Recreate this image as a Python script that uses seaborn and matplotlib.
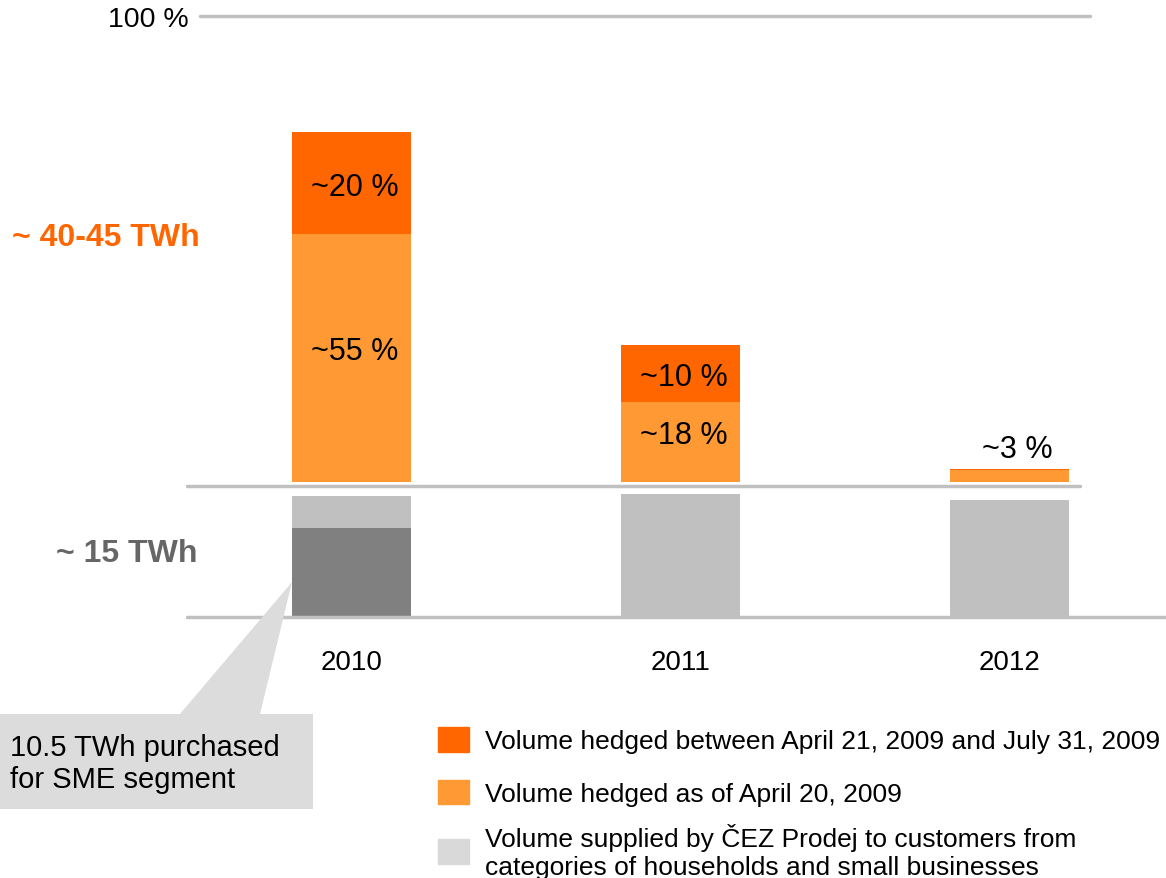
import matplotlib
matplotlib.use("Agg")
import matplotlib.pyplot as plt
from matplotlib.patches import Patch, Polygon
import seaborn as sns

# data
years = ["2010", "2011", "2012"]
hedged_early = [53.2, 17.2, 2.5]     # % of ~40-45 TWh, hedged as of April 20, 2009
hedged_late = [21.9, 12.2, 0.3]      # % hedged between April 21 and July 31, 2009
early_labels = ["~55 %", "~18 %", ""]
late_labels = ["~20 %", "~10 %", "~3 %"]
supplied = [14.3, 14.5, 13.8]        # TWh supplied to households / small businesses
sme = [10.5, 0, 0]                   # TWh purchased for SME segment

c_dark = "#ff6600"
c_light = "#ff9933"
c_grey = "#c0c0c0"
c_sme = "#808080"
c_line = "#c0c0c0"

sns.set_style("white")
plt.rcParams["font.family"] = ["Liberation Sans", "DejaVu Sans"]
plt.rcParams["text.color"] = "black"
plt.rcParams["xtick.color"] = "black"
plt.rcParams["ytick.color"] = "black"

W, H = 1166, 879
fig = plt.figure(figsize=(W / 100, H / 100), dpi=100)

def box(x0, y0, x1, y1):
    return [x0 / W, 1 - y1 / H, (x1 - x0) / W, (y1 - y0) / H]

ax_top = fig.add_axes(box(187, 17, 1166, 483))
ax_bot = fig.add_axes(box(187, 487, 1166, 618))

# upper panel: hedged share
totals = [a + b for a, b in zip(hedged_early, hedged_late)]
sns.barplot(x=years, y=totals, color=c_dark, width=0.362, linewidth=0,
            saturation=1, errorbar=None, ax=ax_top)
sns.barplot(x=years, y=hedged_early, color=c_light, width=0.362, linewidth=0,
            saturation=1, errorbar=None, ax=ax_top)
ax_top.set_xlim(-0.5, 2.476)
ax_top.set_ylim(0, 100)
ax_top.axhline(100, xmin=0.0133, xmax=0.922, color=c_line, lw=2.5, clip_on=False)
for i in range(3):
    if early_labels[i]:
        ax_top.text(i + 0.01, hedged_early[i] / 2 + 1.5, early_labels[i], ha="center",
                    va="center", fontsize=22, color="black")
    if i < 2:
        ax_top.text(i + 0.01, hedged_early[i] + hedged_late[i] / 2 - 0.8, late_labels[i],
                    ha="center", va="center", fontsize=22, color="black")
    else:
        ax_top.text(i + 0.025, totals[i] + 4.2, late_labels[i], ha="center",
                    va="center", fontsize=22, color="black")
ax_top.set_yticks([100], ["100 %"])
ax_top.tick_params(axis="y", length=0, pad=-1, labelsize=20.5)
ax_top.set_xticks([])
ax_top.set_xlabel("")
ax_top.set_ylabel("")
sns.despine(ax=ax_top, left=True, bottom=True)

# lower panel: supplied volume in TWh
sns.barplot(x=years, y=supplied, color=c_grey, width=0.362, linewidth=0,
            saturation=1, errorbar=None, ax=ax_bot)
sns.barplot(x=years, y=sme, color=c_sme, width=0.362, linewidth=0,
            saturation=1, errorbar=None, ax=ax_bot)
ax_bot.set_xlim(-0.5, 2.476)
top_twh = 131 / 8.476
ax_bot.set_ylim(0, top_twh)
ax_bot.axhline(top_twh, xmin=0, xmax=0.912, color=c_line, lw=2.5, clip_on=False)
ax_bot.axhline(0, xmin=0, xmax=1, color=c_line, lw=2.5, clip_on=False)
ax_bot.set_yticks([])
ax_bot.tick_params(axis="x", length=0, pad=23, labelsize=20)
ax_bot.set_xlabel("")
ax_bot.set_ylabel("")
sns.despine(ax=ax_bot, left=True, bottom=True)

# left-hand scale labels
fig.text(12 / W, 1 - 238 / H, "~ 40-45 TWh", color=c_dark, fontsize=23,
         fontweight="bold", ha="left", va="center")
fig.text(198 / W, 1 - 554 / H, "~ 15 TWh", color="#666666", fontsize=23,
         fontweight="bold", ha="right", va="center")

# callout for the SME segment
pts = [(0, 810), (0, 715), (180, 715), (292, 583), (260, 715), (313, 715), (313, 810)]
fig.patches.append(Polygon([(x / W, 1 - y / H) for x, y in pts], closed=True,
                           transform=fig.transFigure, facecolor="#dcdcdc",
                           edgecolor="none", zorder=0))
fig.text(10 / W, 1 - 764 / H, "10.5 TWh purchased\nfor SME segment", fontsize=21,
         ha="left", va="center", linespacing=1.2)

# legend (two blocks so the two-line entry sits like in the original)
labels = ["Volume hedged between April 21, 2009 and July 31, 2009",
          "Volume hedged as of April 20, 2009",
          "Volume supplied by ČEZ Prodej to customers from\ncategories of households and small businesses"]
leg_kw = dict(frameon=False, fontsize=19, handlelength=1.17, handleheight=1.06,
              handletextpad=0.6, borderpad=0, borderaxespad=0, labelcolor="black")
fig.legend([Patch(color=c_dark), Patch(color=c_light)], labels[:2],
           loc="upper left", bbox_to_anchor=(438 / W, 1 - 728 / H),
           labelspacing=1.0, **leg_kw)
fig.legend([Patch(color="#d9d9d9")], labels[2:], loc="center left",
           bbox_to_anchor=(438 / W, 1 - 852 / H), **leg_kw)

fig.savefig("out.png", dpi=100)
